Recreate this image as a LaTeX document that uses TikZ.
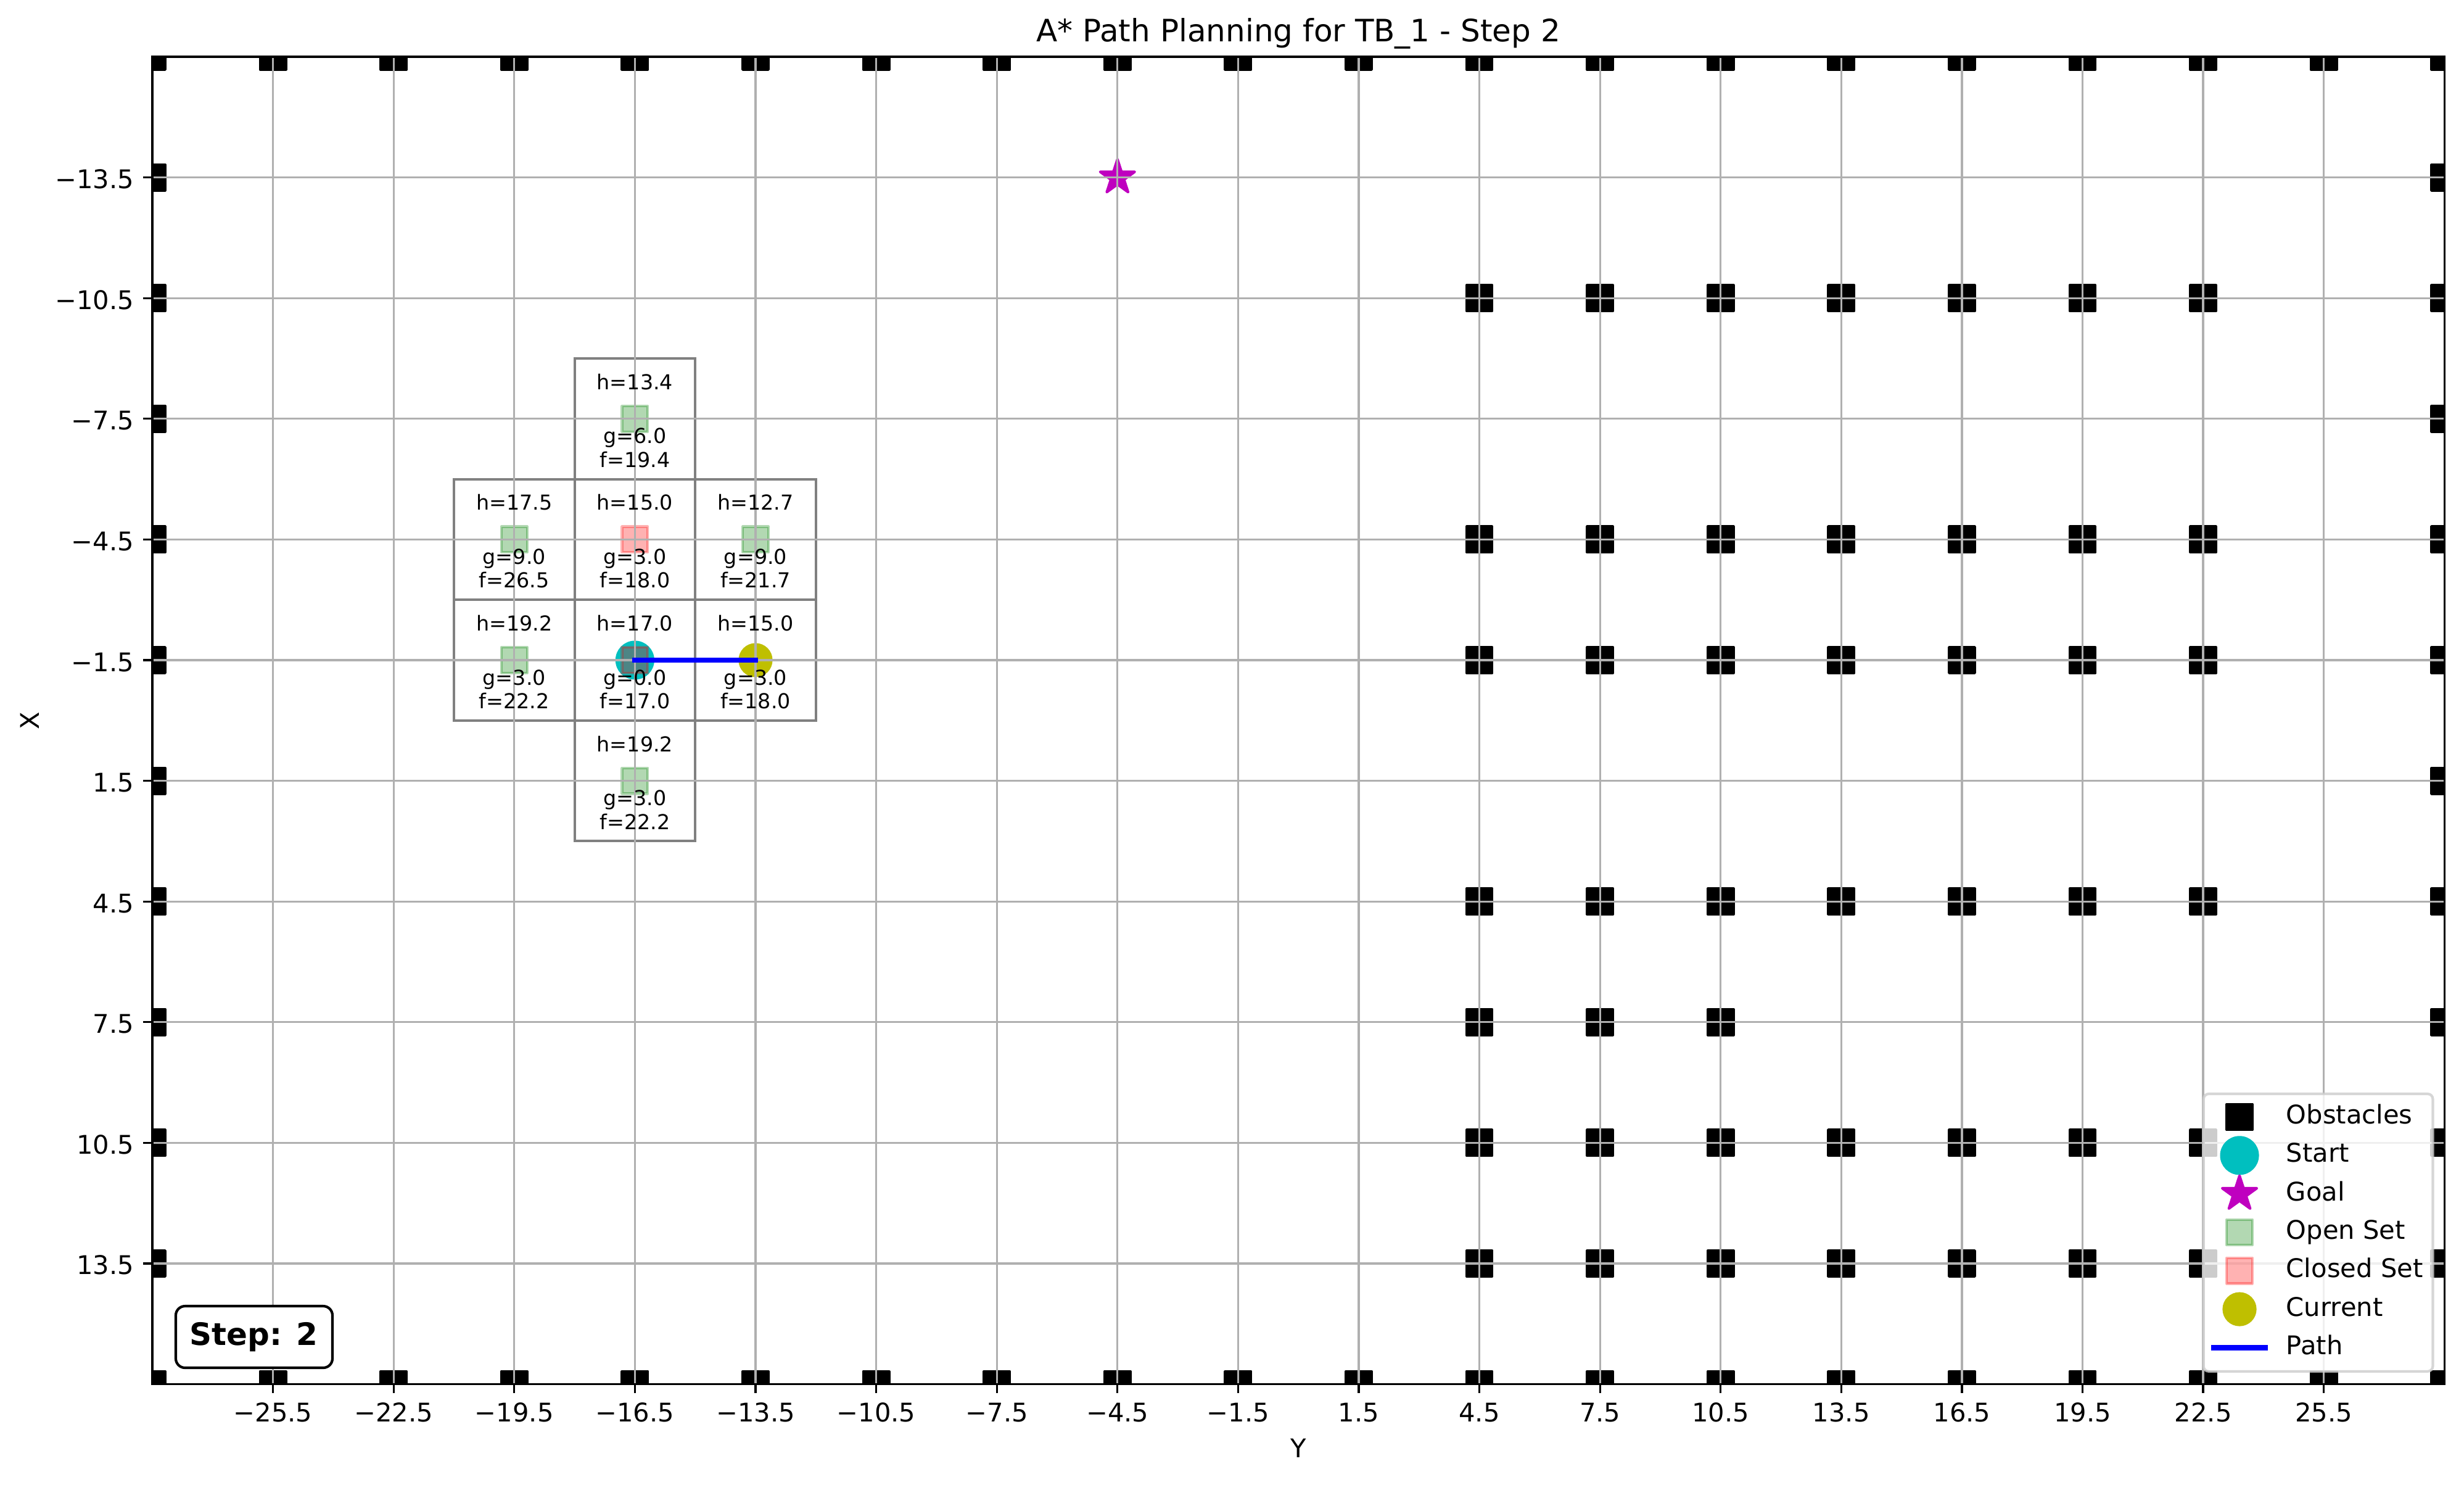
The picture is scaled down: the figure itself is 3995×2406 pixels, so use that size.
\documentclass[tikz,border=0pt]{standalone}
\usepackage{fontspec}
\setmainfont{DejaVu Sans}
\definecolor{gridc}{HTML}{B0B0B0}
\definecolor{mplc}{HTML}{00BFBF}
\definecolor{mply}{HTML}{BFBF00}
\definecolor{mplm}{HTML}{BF00BF}
\definecolor{mplg}{HTML}{008000}
\definecolor{mplr}{HTML}{FF0000}
\definecolor{cellc}{HTML}{808080}
\definecolor{legc}{HTML}{CCCCCC}
\definecolor{mplb}{HTML}{0000FF}
\newcommand{\cellinfo}[4]{%
  \node[ctext] (#1-h) at ([yshift=11.4pt]#1.center) {h=#2};
  \node[ctext] (#1-g) at ([yshift=-9.6pt]#1.center) {g=#3};
  \node[ctext] (#1-f) at ([yshift=-18.84pt]#1.center) {f=#4};}
\begin{document}
\begin{tikzpicture}[x=0.24pt,y=-0.24pt,
  obst/.style={rectangle, draw=black, fill=black, line width=1pt, line join=round, minimum size=10pt, inner sep=0pt, outer sep=0pt},
  openm/.style={rectangle, draw=mplg, fill=mplg, draw opacity=0.3, fill opacity=0.3, line width=1pt, line join=round, minimum size=10pt, inner sep=0pt},
  closedm/.style={rectangle, draw=mplr, fill=mplr, draw opacity=0.3, fill opacity=0.3, line width=1pt, line join=round, minimum size=10pt, inner sep=0pt},
  startm/.style={circle, draw=mplc, fill=mplc, line width=1pt, minimum size=14.142pt, inner sep=0pt},
  currm/.style={circle, draw=mply, fill=mply, line width=1pt, minimum size=12.247pt, inner sep=0pt},
  goalm/.pic={\path[draw=mplm, fill=mplm, line width=1pt, line join=round]
     (90:7.071pt) -- (126:2.701pt) -- (162:7.071pt) -- (198:2.701pt) -- (234:7.071pt) --
     (270:2.701pt) -- (306:7.071pt) -- (342:2.701pt) -- (18:7.071pt) -- (54:2.701pt) -- cycle;},
  cellbox/.style={rectangle, draw=cellc, line width=1pt, minimum size=46.944pt, inner sep=0pt},
  ctext/.style={anchor=base, inner sep=0pt, font=\fontsize{8}{9.6}\selectfont},
  gridl/.style={draw=gridc, line width=0.8pt},
  tickl/.style={draw=black, line width=0.8pt},
  tlab/.style={inner sep=0pt, font=\fontsize{10}{12}\selectfont},
  pathl/.style={draw=mplb, line width=2pt, line cap=rect},
  legtext/.style={anchor=base west, inner sep=0pt, font=\fontsize{10}{12}\selectfont},
  stepbox/.style={rectangle, draw=black, fill=white, line width=1pt, rounded corners=3.6pt, minimum width=60.96pt, minimum height=24pt, inner sep=0pt},
  legframe/.style={rectangle, fill=white, fill opacity=0.8, draw=legc, draw opacity=0.8, line width=1pt, rounded corners=2pt, minimum width=89.2pt, minimum height=107.95pt, inner sep=0pt}
]
\useasboundingbox (0,0) rectangle (3995,2406);
\fill[white] (0,0) rectangle (3995,2406);

\begin{scope}[shift={(505.248pt,-280.272pt)},x=15.648pt,y=-15.648pt]
 \begin{scope}
  \clip (-28.5,-16.5) rectangle (28.5,16.5);
  % explored cells
  \node[cellbox] (cA) at (-16.5,-7.5) {};
  \node[cellbox] (cB) at (-19.5,-4.5) {};
  \node[cellbox] (cC) at (-16.5,-4.5) {};
  \node[cellbox] (cD) at (-13.5,-4.5) {};
  \node[cellbox] (cE) at (-19.5,-1.5) {};
  \node[cellbox] (cF) at (-16.5,-1.5) {};
  \node[cellbox] (cG) at (-13.5,-1.5) {};
  \node[cellbox] (cH) at (-16.5,1.5) {};
  % obstacles
  \foreach \a [count=\i] in {-28.5,-25.5,-22.5,-19.5,-16.5,-13.5,-10.5,-7.5,-4.5,-1.5,1.5,4.5,7.5,10.5,13.5,16.5,19.5,22.5,25.5,28.5}
    {\node[obst] (obT\i) at (\a,-16.5) {}; \node[obst] (obB\i) at (\a,16.5) {};}
  \foreach \b [count=\i] in {-13.5,-10.5,-7.5,-4.5,-1.5,1.5,4.5,7.5,10.5,13.5}
    {\node[obst] (obL\i) at (-28.5,\b) {}; \node[obst] (obR\i) at (28.5,\b) {};}
  \foreach \b [count=\j] in {-10.5,-4.5,-1.5,4.5,10.5,13.5}
    \foreach \a [count=\i] in {4.5,7.5,10.5,13.5,16.5,19.5,22.5}
      {\node[obst] (ob\j-\i) at (\a,\b) {};}
  \foreach \a [count=\i] in {4.5,7.5,10.5}
    {\node[obst] (obS\i) at (\a,7.5) {};}
  % start, goal
  \node[startm] (start) at (-16.5,-1.5) {};
  \coordinate (goalpt) at (-4.5,-13.5);
  \pic at (goalpt) {goalm};
  % open set
  \node[openm] (op1) at (-16.5,-7.5) {};
  \node[openm] (op2) at (-19.5,-4.5) {};
  \node[openm] (op3) at (-13.5,-4.5) {};
  \node[openm] (op4) at (-19.5,-1.5) {};
  \node[openm] (op5) at (-16.5,1.5) {};
  % closed set
  \node[closedm] (cl1) at (-16.5,-4.5) {};
  \node[closedm] (cl2) at (-16.5,-1.5) {};
  % current
  \node[currm] (current) at (-13.5,-1.5) {};
  % grid
  \foreach \a in {-25.5,-22.5,-19.5,-16.5,-13.5,-10.5,-7.5,-4.5,-1.5,1.5,4.5,7.5,10.5,13.5,16.5,19.5,22.5,25.5}
    \draw[gridl] (\a,-16.5) -- (\a,16.5);
  \foreach \b in {-13.5,-10.5,-7.5,-4.5,-1.5,1.5,4.5,7.5,10.5,13.5}
    \draw[gridl] (-28.5,\b) -- (28.5,\b);
  % path
  \draw[pathl] (start.center) -- (current.center);
 \end{scope}
 % cell texts
 \cellinfo{cA}{13.4}{6.0}{19.4}
 \cellinfo{cB}{17.5}{9.0}{26.5}
 \cellinfo{cC}{15.0}{3.0}{18.0}
 \cellinfo{cD}{12.7}{9.0}{21.7}
 \cellinfo{cE}{19.2}{3.0}{22.2}
 \cellinfo{cF}{17.0}{0.0}{17.0}
 \cellinfo{cG}{15.0}{3.0}{18.0}
 \cellinfo{cH}{19.2}{3.0}{22.2}
 % spines
 \draw[line width=0.8pt] (-28.5,-16.5) rectangle (28.5,16.5);
 % x ticks
 \foreach \a/\t [count=\i] in {-25.5/−25.5,-22.5/−22.5,-19.5/−19.5,-16.5/−16.5,-13.5/−13.5,-10.5/−10.5,-7.5/−7.5,-4.5/−4.5,-1.5/−1.5,1.5/1.5,4.5/4.5,7.5/7.5,10.5/10.5,13.5/13.5,16.5/16.5,19.5/19.5,22.5/22.5,25.5/25.5}
   {\draw[tickl] (\a,16.5) -- ++(0pt,-3.5pt);
    \node[tlab, anchor=base, yshift=-14.62pt] (xt\i) at (\a,16.5) {\t};}
 % y ticks
 \foreach \b/\t [count=\i] in {-13.5/−13.5,-10.5/−10.5,-7.5/−7.5,-4.5/−4.5,-1.5/−1.5,1.5/1.5,4.5/4.5,7.5/7.5,10.5/10.5,13.5/13.5}
   {\draw[tickl] (-28.5,\b) -- ++(-3.5pt,0pt);
    \node[tlab, anchor=base east, xshift=-7.0pt, yshift=-4.32pt] (yt\i) at (-28.5,\b) {\t};}
\end{scope}

% title and axis labels
\node[anchor=base, inner sep=0pt, font=\fontsize{12}{14.4}\selectfont] (title) at (2105.2,67.8) {A* Path Planning for TB\_1 - Step 2};
\node[anchor=base, inner sep=0pt, font=\fontsize{10}{12}\selectfont] (ylab) at (2105.2,2362.5) {Y};
\node[anchor=base, rotate=90, inner sep=0pt, font=\fontsize{10}{12}\selectfont] (xlab) at (63.5,1167.8) {X};

% step box
\node[stepbox] (stepbx) at (412,2167) {};
\node[anchor=base, inner sep=0pt, font=\fontsize{12}{14.4}\selectfont\bfseries] (steplbl) at (411.5,2180) {Step: 2};

% legend
\node[legframe] (legend) at (3758.55,1997.9) {};
\node[obst] (lgob) at (3631,1810.5) {};
\node[startm] (lgst) at (3631,1872.8) {};
\coordinate (lggo) at (3631,1935.1);
\pic at (lggo) {goalm};
\node[openm] (lgop) at (3631,1997.4) {};
\node[closedm] (lgcl) at (3631,2059.7) {};
\node[currm] (lgcu) at (3631,2122.0) {};
\coordinate (lgpa1) at (3589.4,2184.3);
\coordinate (lgpa2) at (3672.7,2184.3);
\draw[pathl] (lgpa1) -- (lgpa2);
\node[legtext] (lt1) at (3706,1821.5) {Obstacles};
\node[legtext] (lt2) at (3706,1883.8) {Start};
\node[legtext] (lt3) at (3706,1946.1) {Goal};
\node[legtext] (lt4) at (3706,2008.4) {Open Set};
\node[legtext] (lt5) at (3706,2070.7) {Closed Set};
\node[legtext] (lt6) at (3706,2133.0) {Current};
\node[legtext] (lt7) at (3706,2195.3) {Path};
\end{tikzpicture}
\end{document}
